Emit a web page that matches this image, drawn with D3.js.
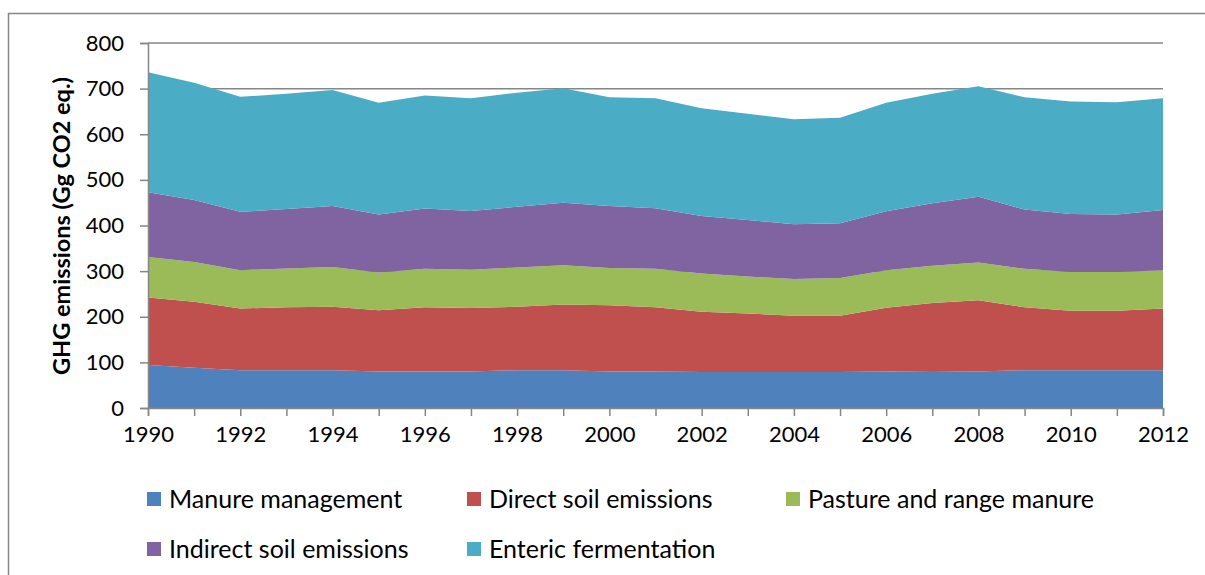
<!DOCTYPE html>
<html>
<head>
<meta charset="utf-8">
<script src="https://cdn.jsdelivr.net/npm/d3@7"></script>
<style>
  body { margin: 0; background: #fff; }
  svg { display: block; font-family: Lato, "Open Sans", sans-serif; }
</style>
</head>
<body>
<svg id="chart" width="1205" height="575"></svg>
<script>
// years on the x axis
const years = d3.range(1990, 2013);

// series values (Gg CO2 eq.)
const manureManagement = [94, 88, 83, 83, 83, 80, 80, 80, 83, 83, 80, 80, 79, 79, 79, 79, 80, 81, 80, 83, 83, 83, 83];
const directSoil      = [148, 145, 135, 138, 139, 134, 141, 139, 139, 144, 145, 141, 132, 128, 123, 123, 140, 149, 156, 138, 130, 130, 135];
const pastureRange    = [89, 87, 84, 85, 87, 83, 84, 84, 86, 86, 82, 84, 84, 81, 81, 83, 82, 82, 83, 84, 85, 85, 84];
const indirectSoil    = [142, 136, 128, 130, 134, 127, 132, 129, 133, 137, 136, 133, 126, 124, 120, 120, 129, 137, 144, 130, 127, 126, 132];
const entericFerm     = [263, 257, 252, 253, 254, 245, 248, 247, 250, 251, 238, 241, 236, 233, 230, 231, 238, 240, 242, 246, 247, 246, 245];

const seriesNames = ["Manure management", "Direct soil emissions", "Pasture and range manure",
                     "Indirect soil emissions", "Enteric fermentation"];
const seriesColors = ["#4F81BD", "#C0504D", "#9BBB59", "#8064A2", "#4BACC6"];
const yTicks = [0, 100, 200, 300, 400, 500, 600, 700, 800];

const allSeries = [manureManagement, directSoil, pastureRange, indirectSoil, entericFerm];
const rows = years.map((yr, i) => {
    const r = { year: yr };
    seriesNames.forEach((n, k) => { r[n] = allSeries[k][i]; });
    return r;
});

const svg = d3.select("#chart");
const gridColor = "#868686";

// outer chart border (left and top visible)
svg.append("path")
    .attr("d", "M8.5,580 L8.5,13.5 L1210,13.5")
    .attr("fill", "none")
    .attr("stroke", gridColor)
    .attr("stroke-width", 1.5);

const plot = { left: 148, right: 1163, top: 43, bottom: 408 };

const x = d3.scaleLinear().domain([1990, 2012]).range([plot.left, plot.right]);
const y = d3.scaleLinear().domain([0, 800]).range([plot.bottom, plot.top]);

// gridlines
svg.append("g")
    .selectAll("line")
    .data(yTicks.filter(d => d > 0))
    .join("line")
    .attr("x1", plot.left).attr("x2", plot.right)
    .attr("y1", d => y(d)).attr("y2", d => y(d))
    .attr("stroke", gridColor)
    .attr("stroke-width", 1.5);

// stacked areas
const stack = d3.stack().keys(seriesNames);
const stacked = stack(rows);

const area = d3.area()
    .x(d => x(d.data.year))
    .y0(d => y(d[0]))
    .y1(d => y(d[1]));

svg.append("g")
    .selectAll("path")
    .data(stacked)
    .join("path")
    .attr("d", area)
    .attr("fill", (d, i) => seriesColors[i]);

// y axis
const yAxis = svg.append("g")
    .attr("transform", `translate(${plot.left},0)`)
    .call(d3.axisLeft(y).tickValues(yTicks).tickSize(8).tickPadding(16).tickFormat(d3.format("d")));
yAxis.select(".domain").attr("stroke", gridColor).attr("stroke-width", 1.5);
yAxis.selectAll(".tick line").attr("stroke", gridColor).attr("stroke-width", 1.5);
yAxis.selectAll(".tick text")
    .attr("font-size", 22)
    .attr("font-family", "Lato")
    .attr("fill", "#000");

// x axis
const xAxis = svg.append("g")
    .attr("transform", `translate(0,${plot.bottom})`)
    .call(d3.axisBottom(x).tickValues(years).tickSize(8).tickPadding(10)
        .tickFormat(d => (d % 2 === 0 ? d : "")));
xAxis.select(".domain").attr("stroke", gridColor).attr("stroke-width", 1.5);
xAxis.selectAll(".tick line").attr("stroke", gridColor).attr("stroke-width", 1.5);
xAxis.selectAll(".tick text")
    .attr("font-size", 22)
    .attr("font-family", "Lato")
    .attr("fill", "#000");

// y axis title
svg.append("text")
    .attr("transform", "translate(70,226) rotate(-90)")
    .attr("text-anchor", "middle")
    .attr("font-size", 23.5)
    .attr("font-weight", "bold")
    .attr("font-family", "Lato")
    .text("GHG emissions (Gg CO2 eq.)");

// legend
const legendPos = [
    { x: 147, y: 499 }, { x: 467, y: 499 }, { x: 786, y: 499 },
    { x: 147, y: 549 }, { x: 467, y: 549 }
];
const legend = svg.append("g")
    .selectAll("g")
    .data(seriesNames)
    .join("g")
    .attr("transform", (d, i) => `translate(${legendPos[i].x},${legendPos[i].y})`);

legend.append("rect")
    .attr("x", 0).attr("y", -7)
    .attr("width", 14).attr("height", 14)
    .attr("fill", (d, i) => seriesColors[i]);

legend.append("text")
    .attr("x", 22)
    .attr("dy", "0.35em")
    .attr("font-size", 25)
    .attr("font-family", "Lato")
    .text(d => d);
</script>
</body>
</html>
